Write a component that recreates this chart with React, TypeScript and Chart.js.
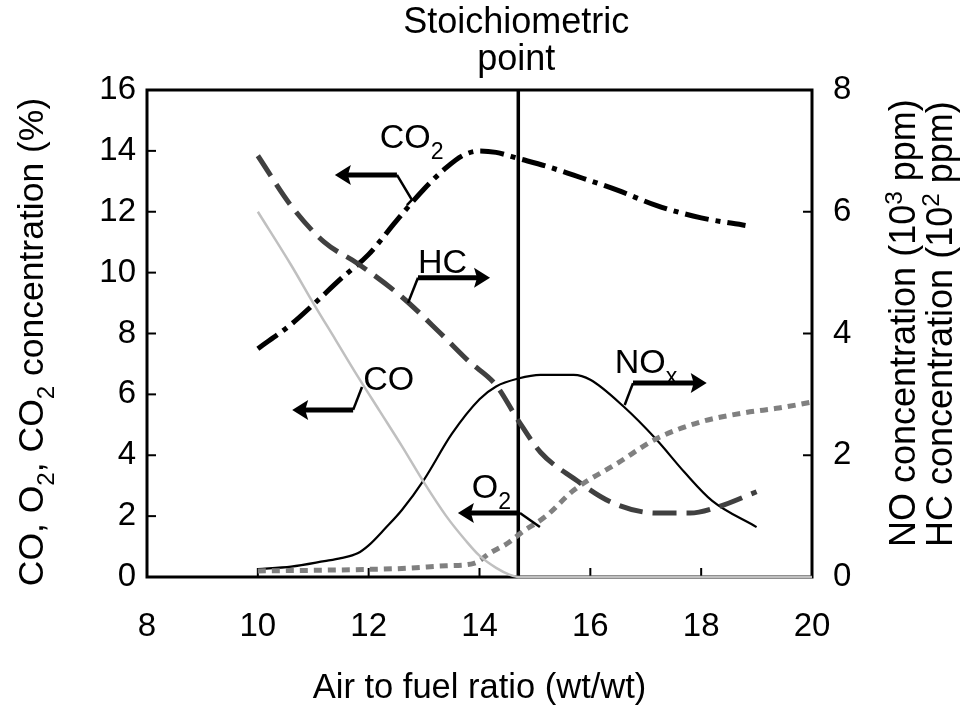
import React, { useEffect, useRef } from 'react';
import { Chart, registerables } from 'chart.js';

Chart.register(...registerables);

// ---------- data ----------
const xTicks = [8, 10, 12, 14, 16, 18, 20];
const leftTicks = [0, 2, 4, 6, 8, 10, 12, 14, 16];
const rightTicks = [0, 2, 4, 6, 8];

// CO (%), left axis
const coX = [10, 10.6, 11.0, 11.4, 11.8, 12.2, 12.6, 13.0, 13.4, 13.75, 14.0, 14.3, 14.55, 14.7, 16, 18, 20];
const coY = [12.0, 10.25, 9.0, 7.8, 6.6, 5.45, 4.3, 3.1, 2.0, 1.2, 0.7, 0.3, 0.07, 0, 0, 0, 0];

// CO2 (%), left axis
const co2X = [10, 10.6, 11.0, 11.5, 12.0, 12.5, 13.0, 13.4, 13.7, 14.0, 14.3, 14.7, 15.2, 15.7, 16.5, 17.2, 18.0, 18.8];
const co2Y = [7.5, 8.3, 8.95, 9.8, 10.6, 11.7, 12.75, 13.45, 13.85, 14.0, 13.95, 13.75, 13.5, 13.2, 12.7, 12.2, 11.8, 11.55];

// O2 (%), left axis
const o2X = [10, 11, 12, 12.6, 13.4, 13.9, 14.2, 14.5, 14.75, 15.2, 15.7, 16.5, 17.2, 18.0, 18.8, 19.4, 20];
const o2Y = [0.2, 0.22, 0.25, 0.28, 0.37, 0.45, 0.8, 1.1, 1.45, 2.0, 2.85, 3.75, 4.55, 5.1, 5.4, 5.55, 5.75];

// HC (10^2 ppm), right axis
const hcX = [10, 10.6, 11.2, 11.8, 12.6, 13.3, 13.8, 14.3, 14.7, 15.1, 15.7, 16.4, 17.2, 17.8, 18.3, 19.0];
const hcY = [6.92, 6.1, 5.5, 5.15, 4.6, 4.0, 3.55, 3.15, 2.57, 2.05, 1.62, 1.22, 1.05, 1.05, 1.15, 1.4];

// NOx (10^3 ppm), right axis
const noxX = [10, 10.6, 11.2, 11.5, 11.8, 12.0, 12.3, 12.6, 13.0, 13.5, 14.0, 14.3, 14.7, 15.1, 15.7, 16.0, 16.6, 17.2, 17.7, 18.2, 19.0];
const noxY = [0.13, 0.17, 0.26, 0.31, 0.39, 0.52, 0.8, 1.1, 1.6, 2.35, 2.92, 3.13, 3.26, 3.32, 3.32, 3.24, 2.8, 2.25, 1.72, 1.25, 0.82];

// Stoichiometric point
const stoichX = 14.7;
const stoichSpan = [0, 16];

// ---------- annotation layout (data units of x / left y axis) ----------
type Part = { t: string; sub?: boolean; sup?: boolean };
const annotations = [
  { parts: [{ t: 'CO' }, { t: '2', sub: true }], x: 12.2, y: 14.09, arrowFrom: [12.51, 13.21], arrowTo: [11.39, 13.21], leader: [[12.51, 13.21], [12.78, 12.39], [12.69, 12.22]] },
  { parts: [{ t: 'HC' }], x: 12.89, y: 9.99, arrowFrom: [12.89, 9.83], arrowTo: [14.19, 9.83], leader: [[12.89, 9.83], [12.71, 9.0]] },
  { parts: [{ t: 'CO' }], x: 11.9, y: 6.14, arrowFrom: [11.72, 5.49], arrowTo: [10.62, 5.49], leader: [[11.72, 5.49], [11.88, 6.24]] },
  { parts: [{ t: 'O' }, { t: '2', sub: true }], x: 13.86, y: 2.6, arrowFrom: [14.73, 2.1], arrowTo: [13.61, 2.1], leader: [[14.73, 2.1], [15.09, 1.64]] },
  { parts: [{ t: 'NO' }, { t: 'x', sub: true }], x: 16.44, y: 6.7, arrowFrom: [16.77, 6.37], arrowTo: [18.1, 6.37], leader: [[16.77, 6.37], [16.62, 5.65]] },
];

const FAMILY = '"Liberation Sans", Arial, Helvetica, sans-serif';
const font = (s: number) => `${s}px ${FAMILY}`;

const zip = (xs: number[], ys: number[]) => xs.map((x, i) => ({ x, y: ys[i] }));

function drawRich(ctx: CanvasRenderingContext2D, parts: Part[], x: number, y: number, size: number, align: 'left' | 'center') {
  const widths = parts.map((p) => {
    ctx.font = font(p.sub || p.sup ? size * 0.68 : size);
    return ctx.measureText(p.t).width;
  });
  const total = widths.reduce((a, b) => a + b, 0);
  let cx = align === 'center' ? x - total / 2 : x;
  ctx.textAlign = 'left';
  ctx.textBaseline = 'alphabetic';
  parts.forEach((p, i) => {
    ctx.font = font(p.sub || p.sup ? size * 0.68 : size);
    const dy = p.sub ? size * 0.32 : p.sup ? -size * 0.36 : 0;
    ctx.fillText(p.t, cx, y + dy);
    cx += widths[i];
  });
}

function drawArrow(ctx: CanvasRenderingContext2D, x1: number, y1: number, x2: number, y2: number) {
  const dir = Math.sign(x2 - x1) || 1;
  ctx.lineWidth = 5;
  ctx.lineCap = 'butt';
  ctx.beginPath();
  ctx.moveTo(x1, y1);
  ctx.lineTo(x2 - dir * 12, y2);
  ctx.stroke();
  ctx.beginPath();
  ctx.moveTo(x2, y2);
  ctx.lineTo(x2 - dir * 16, y2 - 10);
  ctx.lineTo(x2 - dir * 13, y2);
  ctx.lineTo(x2 - dir * 16, y2 + 10);
  ctx.closePath();
  ctx.fill();
}

const decorPlugin = {
  id: 'decor',
  beforeDatasetsDraw(chart: any) {
    const { ctx, chartArea: a, scales } = chart;
    ctx.save();
    ctx.strokeStyle = '#000';
    ctx.lineWidth = 3;
    ctx.strokeRect(a.left, a.top, a.right - a.left, a.bottom - a.top);
    ctx.lineWidth = 2;
    const tl = 9;
    leftTicks.slice(1, -1).forEach((v) => {
      const y = scales.y.getPixelForValue(v);
      ctx.beginPath(); ctx.moveTo(a.left, y); ctx.lineTo(a.left + tl, y); ctx.stroke();
    });
    rightTicks.slice(1, -1).forEach((v) => {
      const y = scales.y2.getPixelForValue(v);
      ctx.beginPath(); ctx.moveTo(a.right, y); ctx.lineTo(a.right - tl, y); ctx.stroke();
    });
    xTicks.slice(1, -1).forEach((v) => {
      const x = scales.x.getPixelForValue(v);
      ctx.beginPath(); ctx.moveTo(x, a.bottom); ctx.lineTo(x, a.bottom - tl); ctx.stroke();
    });
    ctx.restore();
  },
  afterDatasetsDraw(chart: any) {
    const { ctx, scales } = chart;
    const px = (v: number) => scales.x.getPixelForValue(v);
    const py = (v: number) => scales.y.getPixelForValue(v);
    ctx.save();
    ctx.fillStyle = '#000';
    ctx.strokeStyle = '#000';

    // in-plot labels with arrows
    annotations.forEach((an) => {
      drawRich(ctx, an.parts as Part[], px(an.x), py(an.y), 34, 'left');
      ctx.lineWidth = 2.5;
      ctx.beginPath();
      an.leader.forEach((p, i) => {
        if (i === 0) ctx.moveTo(px(p[0]), py(p[1]));
        else ctx.lineTo(px(p[0]), py(p[1]));
      });
      ctx.stroke();
      drawArrow(ctx, px(an.arrowFrom[0]), py(an.arrowFrom[1]), px(an.arrowTo[0]), py(an.arrowTo[1]));
    });

    // Stoichiometric point title
    const sx = px(stoichX);
    drawRich(ctx, [{ t: 'Stoichiometric' }], sx - 2, 33, 36, 'center');
    drawRich(ctx, [{ t: 'point' }], sx - 2, 70, 36, 'center');

    // left axis title (rotated)
    ctx.save();
    ctx.translate(43, 342);
    ctx.rotate(-Math.PI / 2);
    drawRich(ctx, [{ t: 'CO, O' }, { t: '2', sub: true }, { t: ', CO' }, { t: '2', sub: true }, { t: ' concentration (%)' }], 0, 0, 35.5, 'center');
    ctx.restore();

    // right axis titles (rotated)
    ctx.save();
    ctx.translate(915, 547);
    ctx.rotate(-Math.PI / 2);
    drawRich(ctx, [{ t: 'NO concentration (10' }, { t: '3', sup: true }, { t: ' ppm)' }], 0, 0, 36, 'left');
    ctx.restore();
    ctx.save();
    ctx.translate(952, 547);
    ctx.rotate(-Math.PI / 2);
    drawRich(ctx, [{ t: 'HC concentration (10' }, { t: '2', sup: true }, { t: ' ppm)' }], 0, 0, 36, 'left');
    ctx.restore();

    ctx.restore();
  },
};

export default function App() {
  const ref = useRef<HTMLCanvasElement | null>(null);

  useEffect(() => {
    if (!ref.current) return;
    const line = { pointRadius: 0, fill: false, cubicInterpolationMode: 'monotone' as const, clip: 6 };
    const chart = new Chart(ref.current, {
      type: 'line',
      data: {
        datasets: [
          { ...line, label: 'CO', data: zip(coX, coY), yAxisID: 'y', borderColor: '#c0c0c0', borderWidth: 2.5 },
          { ...line, label: 'O2', data: zip(o2X, o2Y), yAxisID: 'y', borderColor: '#808080', borderWidth: 5, borderDash: [8, 6] },
          { ...line, label: 'HC', data: zip(hcX, hcY), yAxisID: 'y2', borderColor: '#404040', borderWidth: 5, borderDash: [24, 10] },
          { ...line, label: 'CO2', data: zip(co2X, co2Y), yAxisID: 'y', borderColor: '#000', borderWidth: 5, borderDash: [24, 7, 5, 7] },
          { ...line, label: 'NOx', data: zip(noxX, noxY), yAxisID: 'y2', borderColor: '#000', borderWidth: 2.2 },
          { ...line, label: 'Stoichiometric', data: stoichSpan.map((y) => ({ x: stoichX, y })), yAxisID: 'y', borderColor: '#000', borderWidth: 3.5, cubicInterpolationMode: 'default', tension: 0 },
        ] as any,
      },
      options: {
        animation: false,
        responsive: false,
        events: [],
        layout: { padding: { top: 90, left: 0, right: 0, bottom: 0 } },
        plugins: { legend: { display: false }, tooltip: { enabled: false } },
        scales: {
          x: {
            type: 'linear',
            min: xTicks[0],
            max: xTicks[xTicks.length - 1],
            afterBuildTicks: (s: any) => { s.ticks = xTicks.map((value) => ({ value })); },
            afterFit: (s: any) => { s.height = 129; },
            grid: { display: false, drawTicks: false },
            border: { display: false },
            ticks: { color: '#000', font: { family: FAMILY, size: 33 }, padding: 30, maxRotation: 0 },
            title: { display: true, text: 'Air to fuel ratio (wt/wt)', color: '#000', font: { family: FAMILY, size: 34.5, lineHeight: 1 }, padding: 0 },
          },
          y: {
            type: 'linear',
            position: 'left',
            min: leftTicks[0],
            max: leftTicks[leftTicks.length - 1],
            afterBuildTicks: (s: any) => { s.ticks = leftTicks.map((value) => ({ value })); },
            afterFit: (s: any) => { s.width = 147; },
            grid: { display: false, drawTicks: false },
            border: { display: false },
            ticks: { color: '#000', font: { family: FAMILY, size: 33 }, padding: 11 },
          },
          y2: {
            type: 'linear',
            position: 'right',
            min: rightTicks[0],
            max: rightTicks[rightTicks.length - 1],
            afterBuildTicks: (s: any) => { s.ticks = rightTicks.map((value) => ({ value })); },
            afterFit: (s: any) => { s.width = 148; },
            grid: { display: false, drawTicks: false },
            border: { display: false },
            ticks: { color: '#000', font: { family: FAMILY, size: 33 }, padding: 21 },
          },
        },
      } as any,
      plugins: [decorPlugin],
    });
    return () => chart.destroy();
  }, []);

  return (
    <div style={{ position: 'absolute', left: 0, top: 0, width: 960, height: 706, background: '#fff' }}>
      <canvas ref={ref} width={960} height={706} style={{ display: 'block' }} />
    </div>
  );
}
